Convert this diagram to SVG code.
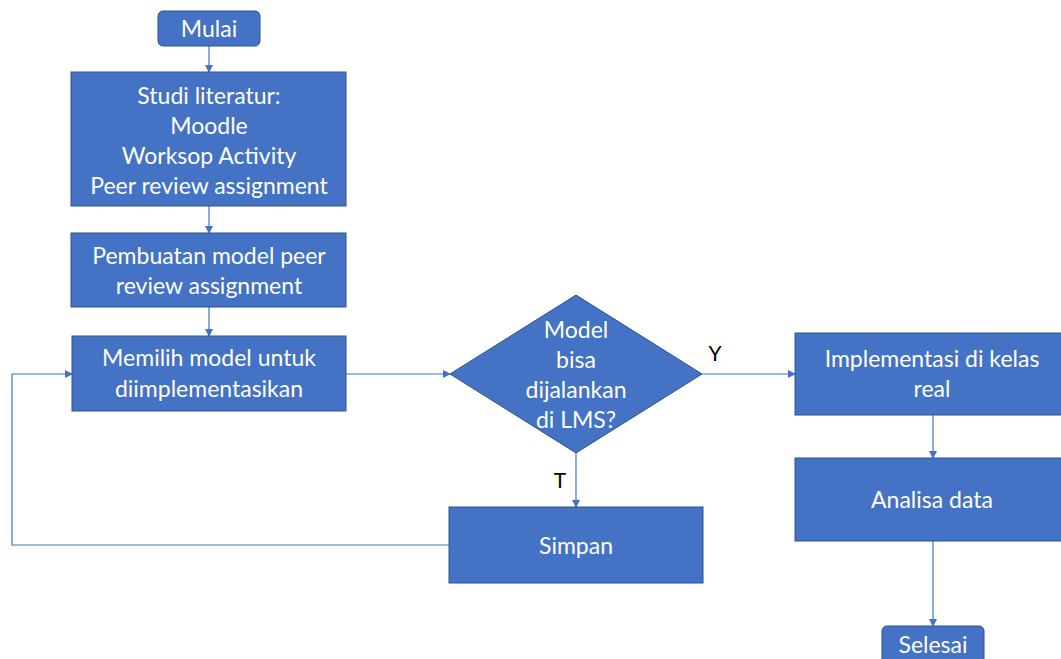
<svg xmlns="http://www.w3.org/2000/svg" width="1061" height="659" viewBox="0 0 1061 659">
<defs>
<marker id="arr" markerWidth="8" markerHeight="8" refX="7" refY="4" orient="auto" markerUnits="userSpaceOnUse">
<path d="M0,0 L8,4 L0,8 Z" fill="#4472C4"/>
</marker>
<style>
.box{fill:#4472C4;stroke:#2F528F;stroke-width:1}
.t{font-family:Lato,"Open Sans",sans-serif;font-size:23px;fill:#FFFFFF;text-anchor:middle;dominant-baseline:central}
.lbl{font-family:Lato,"Open Sans",sans-serif;font-size:21px;fill:#000000;text-anchor:middle;dominant-baseline:central}
.c{fill:none;stroke:#4472C4;stroke-width:1.2}
</style>
</defs>
<rect width="1061" height="659" fill="#FFFFFF"/>
<g id="connectors">
<line class="c" x1="209" y1="46" x2="209" y2="72" marker-end="url(#arr)"/>
<line class="c" x1="209" y1="206" x2="209" y2="233" marker-end="url(#arr)"/>
<line class="c" x1="209" y1="307" x2="209" y2="336" marker-end="url(#arr)"/>
<line class="c" x1="346" y1="374" x2="450" y2="374" marker-end="url(#arr)"/>
<line class="c" x1="702" y1="374" x2="795" y2="374" marker-end="url(#arr)"/>
<line class="c" x1="576" y1="453" x2="576" y2="507" marker-end="url(#arr)"/>
<polyline class="c" points="449,545 12,545 12,374 72,374" marker-end="url(#arr)"/>
<line class="c" x1="933" y1="415" x2="933" y2="458" marker-end="url(#arr)"/>
<line class="c" x1="933" y1="541" x2="933" y2="626" marker-end="url(#arr)"/>
<text class="lbl" x="715" y="352">Y</text>
<text class="lbl" x="560" y="479">T</text>
</g>
<g id="mulai">
<rect class="box" x="158" y="11" width="102" height="35" rx="5"/>
<text class="t" x="209" y="28">Mulai</text>
</g>
<g id="studi">
<rect class="box" x="71" y="72" width="275" height="134"/>
<text class="t" x="209" y="95">Studi literatur:</text>
<text class="t" x="209" y="125">Moodle</text>
<text class="t" x="209" y="155">Worksop Activity</text>
<text class="t" x="209" y="185">Peer review assignment</text>
</g>
<g id="pembuatan">
<rect class="box" x="71" y="233" width="275" height="74"/>
<text class="t" x="209" y="255">Pembuatan model peer</text>
<text class="t" x="209" y="285">review assignment</text>
</g>
<g id="memilih">
<rect class="box" x="72" y="336" width="274" height="75"/>
<text class="t" x="209" y="357">Memilih model untuk</text>
<text class="t" x="209" y="388">diimplementasikan</text>
</g>
<g id="decision">
<polygon class="box" points="576,295 702,374 576,453 450,374"/>
<text class="t" x="576" y="329">Model</text>
<text class="t" x="576" y="359">bisa</text>
<text class="t" x="576" y="389">dijalankan</text>
<text class="t" x="576" y="419">di LMS?</text>
</g>
<g id="simpan">
<rect class="box" x="449" y="507" width="254" height="76"/>
<text class="t" x="576" y="545">Simpan</text>
</g>
<g id="implementasi">
<rect class="box" x="795" y="333" width="268" height="82"/>
<text class="t" x="932" y="358">Implementasi di kelas</text>
<text class="t" x="932" y="388">real</text>
</g>
<g id="analisa">
<rect class="box" x="795" y="458" width="268" height="83"/>
<text class="t" x="932" y="499">Analisa data</text>
</g>
<g id="selesai">
<rect class="box" x="882" y="626" width="102" height="40" rx="5"/>
<text class="t" x="933" y="644">Selesai</text>
</g>
</svg>
